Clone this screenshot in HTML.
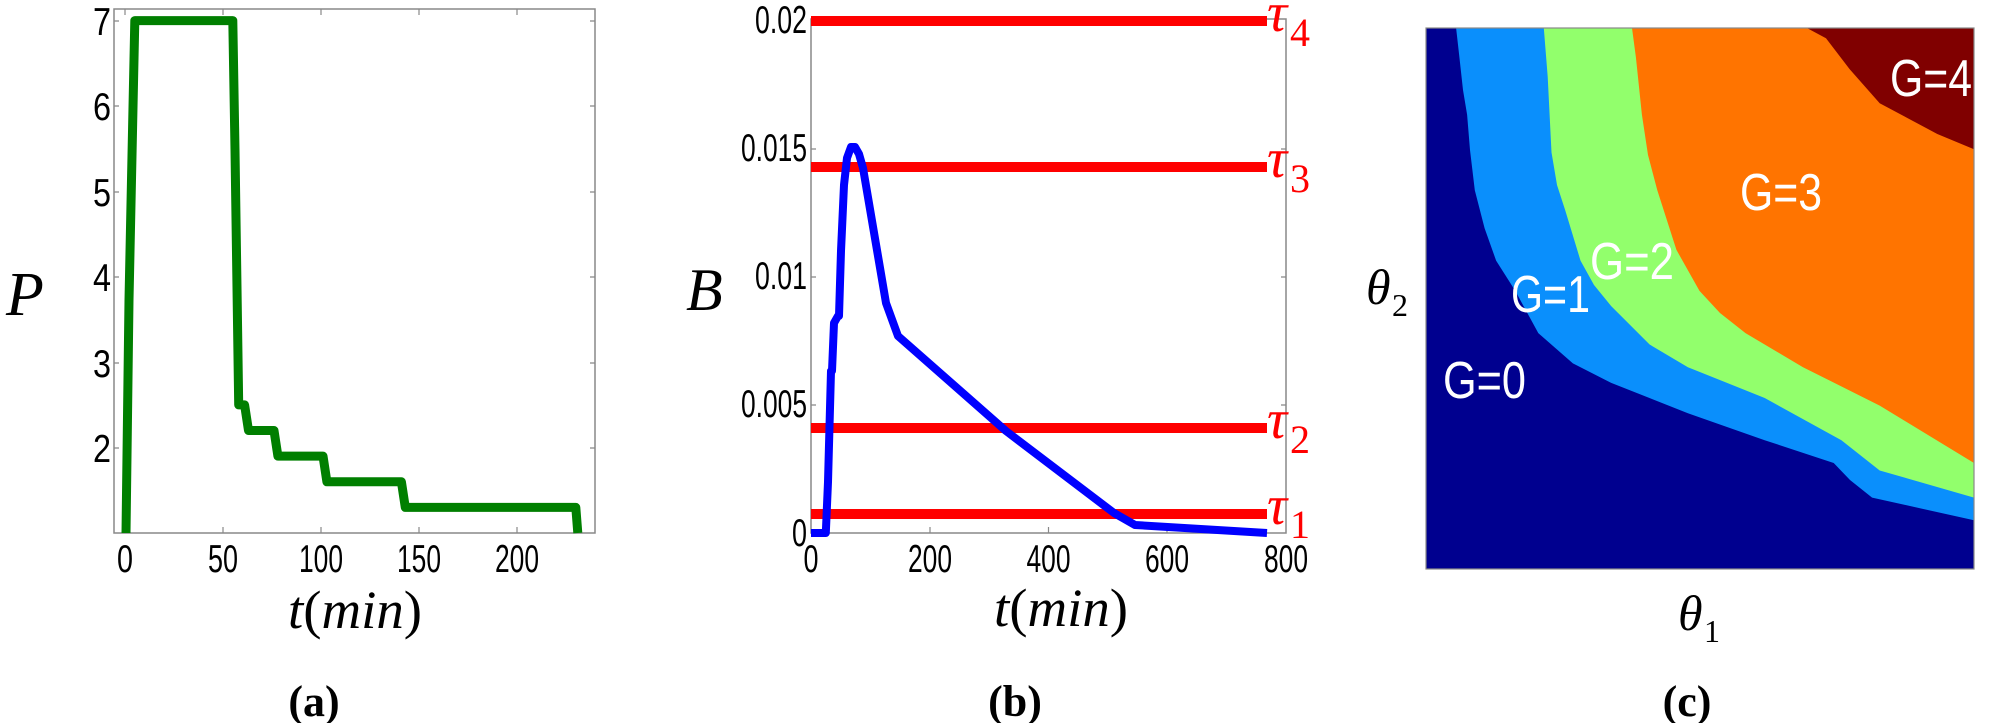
<!DOCTYPE html>
<html><head><meta charset="utf-8"><style>
html,body{margin:0;padding:0;background:#fff;}
svg{display:block;}
.tk{font-family:"Liberation Sans",sans-serif;font-size:39px;fill:#000;}
.lab{font-family:"Liberation Serif",serif;font-style:italic;fill:#000;}
.cap{font-family:"Liberation Serif",serif;font-weight:bold;font-size:44px;fill:#000;}
.g{font-family:"Liberation Sans",sans-serif;font-size:52px;fill:#fff;}
.tau{font-family:"Liberation Serif",serif;fill:#f00;}
</style></head><body>
<svg width="1992" height="723" viewBox="0 0 1992 723" xmlns="http://www.w3.org/2000/svg">
<!-- Panel a -->
<rect x="114" y="9" width="481" height="524" fill="none" stroke="#888" stroke-width="1.5"/>
<g stroke="#888" stroke-width="1.2">
<path d="M114 21h5M114 106h5M114 192h5M114 277h5M114 363h5M114 448h5"/>
<path d="M595 21h-5M595 106h-5M595 192h-5M595 277h-5M595 363h-5M595 448h-5"/>
<path d="M125 533v-6M223 533v-6M321 533v-6M419 533v-6M517 533v-6"/>
<path d="M125 9v6M223 9v6M321 9v6M419 9v6M517 9v6"/>
</g>
<polyline fill="none" stroke="#007f00" stroke-width="9" stroke-linejoin="round" points="126,533 129,300 134.8,20.6 232.8,20.6 235,150 238.7,404.9 244.6,404.9 248.5,430.5 274,430.5 277.9,456.1 323,456.1 326.9,481.8 401.4,481.8 405.3,507.4 575.8,507.4 577.8,533"/>
<g class="tk" text-anchor="end">
<text x="111" y="35" textLength="18" lengthAdjust="spacingAndGlyphs">7</text>
<text x="111" y="120" textLength="18" lengthAdjust="spacingAndGlyphs">6</text>
<text x="111" y="206" textLength="18" lengthAdjust="spacingAndGlyphs">5</text>
<text x="111" y="291" textLength="18" lengthAdjust="spacingAndGlyphs">4</text>
<text x="111" y="377" textLength="18" lengthAdjust="spacingAndGlyphs">3</text>
<text x="111" y="462" textLength="18" lengthAdjust="spacingAndGlyphs">2</text>
</g>
<g class="tk" text-anchor="middle">
<text x="125" y="572" textLength="16" lengthAdjust="spacingAndGlyphs">0</text>
<text x="223" y="572" textLength="30" lengthAdjust="spacingAndGlyphs">50</text>
<text x="321" y="572" textLength="44" lengthAdjust="spacingAndGlyphs">100</text>
<text x="419" y="572" textLength="44" lengthAdjust="spacingAndGlyphs">150</text>
<text x="517" y="572" textLength="44" lengthAdjust="spacingAndGlyphs">200</text>
</g>
<text class="lab" x="6" y="315" font-size="62">P</text>
<text class="lab" x="288" y="628" font-size="54" textLength="134" lengthAdjust="spacingAndGlyphs">t<tspan font-style="normal">(</tspan>min<tspan font-style="normal">)</tspan></text>
<text class="cap" x="314" y="716" text-anchor="middle">(a)</text>

<!-- Panel b -->
<rect x="811" y="19" width="475" height="514" fill="none" stroke="#888" stroke-width="1.5"/>
<g stroke="#888" stroke-width="1.2">
<path d="M811 405h5M811 277h5M811 149h5M1286 405h-5M1286 277h-5M1286 149h-5"/>
<path d="M930 533v-6M1048.5 533v-6M1167 533v-6M930 19v6M1048.5 19v6M1167 19v6"/>
</g>
<g stroke="#f00" stroke-width="10">
<path d="M811 21H1267M811 167H1267M811 428H1267M811 514H1267"/>
</g>
<polyline fill="none" stroke="#0000ff" stroke-width="8" stroke-linejoin="round" points="811,533 825.8,533 828,482 831,371 832,371 834,323 838,316 839,316 841,251 844,185 847,158 851,147 855,147 859,154 863,168 886,303 898,336 1006,431 1114,513 1135,525 1267,533"/>
<g class="tk" text-anchor="end">
<text x="807" y="33" textLength="52" lengthAdjust="spacingAndGlyphs">0.02</text>
<text x="807" y="161" textLength="66" lengthAdjust="spacingAndGlyphs">0.015</text>
<text x="807" y="289" textLength="52" lengthAdjust="spacingAndGlyphs">0.01</text>
<text x="807" y="417" textLength="66" lengthAdjust="spacingAndGlyphs">0.005</text>
<text x="807" y="546" textLength="15" lengthAdjust="spacingAndGlyphs">0</text>
</g>
<g class="tk" text-anchor="middle">
<text x="811" y="572" textLength="15" lengthAdjust="spacingAndGlyphs">0</text>
<text x="930" y="572" textLength="44" lengthAdjust="spacingAndGlyphs">200</text>
<text x="1048.5" y="572" textLength="44" lengthAdjust="spacingAndGlyphs">400</text>
<text x="1167" y="572" textLength="44" lengthAdjust="spacingAndGlyphs">600</text>
<text x="1286" y="572" textLength="44" lengthAdjust="spacingAndGlyphs">800</text>
</g>
<g class="tau">
<text x="1267" y="31" font-size="56" font-style="italic">τ</text><text x="1290" y="46" font-size="40">4</text>
<text x="1267" y="177" font-size="56" font-style="italic">τ</text><text x="1290" y="192" font-size="40">3</text>
<text x="1267" y="438" font-size="56" font-style="italic">τ</text><text x="1290" y="453" font-size="40">2</text>
<text x="1267" y="524" font-size="56" font-style="italic">τ</text><text x="1290" y="538" font-size="40">1</text>
</g>
<text class="lab" x="686" y="310" font-size="60">B</text>
<text class="lab" x="994" y="626" font-size="54" textLength="134" lengthAdjust="spacingAndGlyphs">t<tspan font-style="normal">(</tspan>min<tspan font-style="normal">)</tspan></text>
<text class="cap" x="1015" y="716" text-anchor="middle">(b)</text>

<!-- Panel c -->
<rect x="1426" y="28" width="548" height="541" fill="#00008f"/>
<polygon fill="#0a8ffc" points="1456.1,28 1459.4,57.2 1463,90 1467.1,114.6 1470,150 1474.8,190.3 1484.6,228.2 1496.1,260.6 1515.3,290.9 1538.3,333.1 1572.9,363.4 1611.2,382.9 1687.9,413.2 1764.7,440.2 1833.7,463 1850,480 1872.1,497.6 1974,520.3 1974,28"/>
<polygon fill="#92ff6c" points="1543.8,28 1547.7,76.7 1551.5,152.4 1557,185 1565.2,210.3 1580.5,260.6 1594,285 1611.2,306.1 1649.6,344.5 1687.9,367.2 1764.7,398 1841.4,440.2 1879.7,470.5 1974,497.6 1974,28"/>
<polygon fill="#ff7400" points="1632,28 1635.9,57.2 1641.9,114.6 1648,155 1657.3,190.3 1676.4,249.8 1699.5,290.9 1720,313 1745.5,333.1 1803,367.2 1879.7,405.6 1974,463 1974,28"/>
<polygon fill="#800000" points="1806.9,28 1826,38.3 1849.6,69.1 1879.7,103.2 1937.3,134 1974,149.2 1974,28"/>
<rect x="1426" y="28" width="548" height="541" fill="none" stroke="#888" stroke-width="1.2"/>
<g class="g">
<text x="1890" y="96" textLength="82" lengthAdjust="spacingAndGlyphs">G=4</text>
<text x="1740" y="210" textLength="82" lengthAdjust="spacingAndGlyphs">G=3</text>
<text x="1590" y="279" textLength="84" lengthAdjust="spacingAndGlyphs">G=2</text>
<text x="1511" y="312" textLength="79" lengthAdjust="spacingAndGlyphs">G=1</text>
<text x="1443" y="398" textLength="83" lengthAdjust="spacingAndGlyphs">G=0</text>
</g>
<text class="lab" x="1366" y="304" font-size="50">θ</text><text x="1392" y="316" font-family="Liberation Serif,serif" font-size="32">2</text>
<text class="lab" x="1678" y="630" font-size="50">θ</text><text x="1704" y="642" font-family="Liberation Serif,serif" font-size="32">1</text>
<text class="cap" x="1687" y="716" text-anchor="middle">(c)</text>
</svg>
</body></html>
